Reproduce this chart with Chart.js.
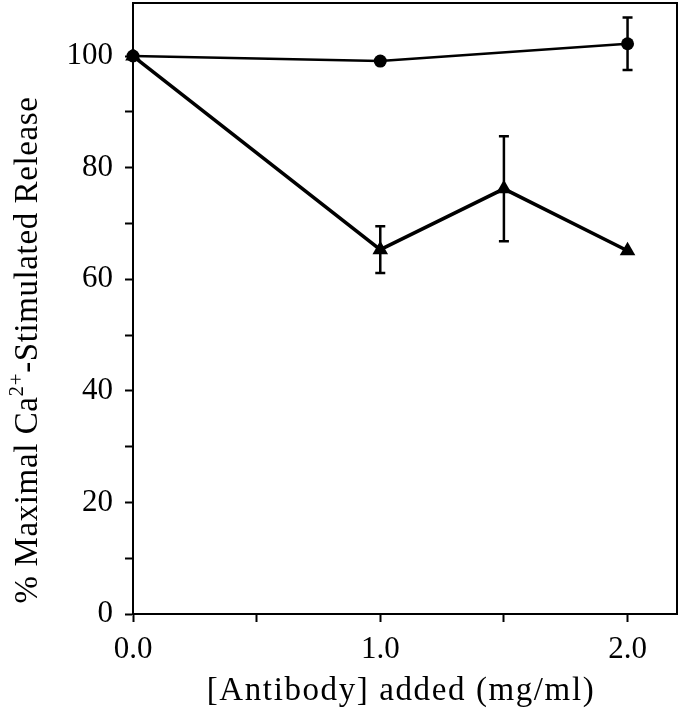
<!DOCTYPE html>
<html>
<head>
<meta charset="utf-8">
<script src="https://cdn.jsdelivr.net/npm/chart.js@4"></script>
<style>
  html, body { margin: 0; padding: 0; background: #fff; }
  #wrap { width: 682px; height: 720px; position: relative; }
</style>
</head>
<body>
<div id="wrap"><canvas id="releaseChart"></canvas></div>
<script>
// --- DATA ---
const controlDose = [0, 1.0, 2.0];
const controlRelease = [100, 99.1, 102.2];
const controlErr = [0, 0, 4.7];

const antibodyDose = [0, 1.0, 1.5, 2.0];
const antibodyRelease = [100, 65.3, 76.2, 65.1];
const antibodyErr = [0, 4.2, 9.4, 0];

const xTickLabels = ['0.0', '1.0', '2.0'];
const yTickLabels = ['0', '20', '40', '60', '80', '100'];

const FONT = '"Liberation Serif", "DejaVu Serif", serif';

function toPoints(xs, ys) {
    return xs.map((x, i) => ({ x: x, y: ys[i] }));
}

// error bars, frame and axis titles
const extrasPlugin = {
    id: 'extras',
    afterDatasetsDraw(chart) {
        const ctx = chart.ctx;
        const xs = chart.scales.x, ys = chart.scales.y;
        const sets = [
            [controlDose, controlRelease, controlErr],
            [antibodyDose, antibodyRelease, antibodyErr]
        ];
        ctx.save();
        ctx.strokeStyle = '#000';
        ctx.lineWidth = 2.5;
        sets.forEach(([dx, vy, err]) => {
            dx.forEach((d, i) => {
                if (!err[i]) return;
                const px = xs.getPixelForValue(d);
                const top = ys.getPixelForValue(vy[i] + err[i]);
                const bot = ys.getPixelForValue(vy[i] - err[i]);
                ctx.beginPath();
                ctx.moveTo(px, top); ctx.lineTo(px, bot);
                ctx.moveTo(px - 5, top); ctx.lineTo(px + 5, top);
                ctx.moveTo(px - 5, bot); ctx.lineTo(px + 5, bot);
                ctx.stroke();
            });
        });
        ctx.restore();
    },
    afterDraw(chart) {
        const ctx = chart.ctx;
        const a = chart.chartArea;
        ctx.save();
        ctx.strokeStyle = '#000';
        ctx.lineWidth = 2;
        ctx.strokeRect(a.left, a.top, a.right - a.left, a.bottom - a.top);

        ctx.fillStyle = '#000';
        ctx.textBaseline = 'alphabetic';

        // x title
        ctx.font = '33px ' + FONT;
        ctx.letterSpacing = '1.6px';
        ctx.textAlign = 'center';
        ctx.fillText('[Antibody] added (mg/ml)', 401, 700);

        // y title with superscript
        ctx.letterSpacing = '0.6px';
        const parts = [
            { t: '% Maximal Ca', f: '33px ' + FONT, dy: 0 },
            { t: '2+', f: '21px ' + FONT, dy: -14 },
            { t: '-Stimulated Release', f: '33px ' + FONT, dy: 0 }
        ];
        let total = 0;
        parts.forEach(p => { ctx.font = p.f; p.w = ctx.measureText(p.t).width; total += p.w; });
        ctx.translate(37, 350);
        ctx.rotate(-Math.PI / 2);
        ctx.textAlign = 'left';
        let cx = -total / 2;
        parts.forEach(p => {
            ctx.font = p.f;
            ctx.fillText(p.t, cx, p.dy);
            cx += p.w;
        });
        ctx.restore();
    }
};

function initChart() {
    const ctx = document.getElementById('releaseChart').getContext('2d');
    new Chart(ctx, {
        type: 'line',
        data: {
            datasets: [{
                label: 'Control',
                data: toPoints(controlDose, controlRelease),
                borderColor: '#000',
                backgroundColor: '#000',
                borderWidth: 2.5,
                pointStyle: 'circle',
                pointRadius: 6.5,
                pointBorderWidth: 0,
                tension: 0,
                clip: false
            }, {
                label: 'Antibody',
                data: toPoints(antibodyDose, antibodyRelease),
                borderColor: '#000',
                backgroundColor: '#000',
                borderWidth: 3.5,
                pointStyle: 'triangle',
                pointRadius: 9,
                pointBorderWidth: 0,
                tension: 0,
                clip: false
            }]
        },
        options: {
            responsive: true, maintainAspectRatio: false,
            animation: false,
            layout: { autoPadding: false, padding: { top: 3, right: 5, left: 0, bottom: 0 } },
            plugins: { legend: { display: false }, tooltip: { enabled: false } },
            scales: {
                x: {
                    type: 'linear', min: 0, max: 2.2,
                    afterFit: s => { s.height = 106; s.paddingLeft = 0; s.paddingRight = 0; },
                    border: { display: true, color: '#000', width: 2 },
                    grid: { drawOnChartArea: false, tickLength: 8, tickColor: '#000', tickWidth: 2 },
                    ticks: {
                        stepSize: 0.5, includeBounds: false, autoSkip: false, maxRotation: 0,
                        padding: 9, color: '#000', font: { family: FONT, size: 31 },
                        callback: v => Number.isInteger(v) ? xTickLabels[v] : ''
                    }
                },
                y: {
                    min: 0, max: 109.5,
                    afterFit: s => { s.width = 133; s.paddingTop = 0; s.paddingBottom = 0; },
                    border: { display: true, color: '#000', width: 2 },
                    grid: { drawOnChartArea: false, tickLength: 8, tickColor: '#000', tickWidth: 2 },
                    ticks: {
                        stepSize: 10, includeBounds: false, autoSkip: false,
                        padding: 12, color: '#000', font: { family: FONT, size: 31 },
                        callback: v => v % 20 === 0 ? yTickLabels[v / 20] : ''
                    }
                }
            }
        },
        plugins: [extrasPlugin]
    });
}

window.onload = initChart;
</script>
</body>
</html>
